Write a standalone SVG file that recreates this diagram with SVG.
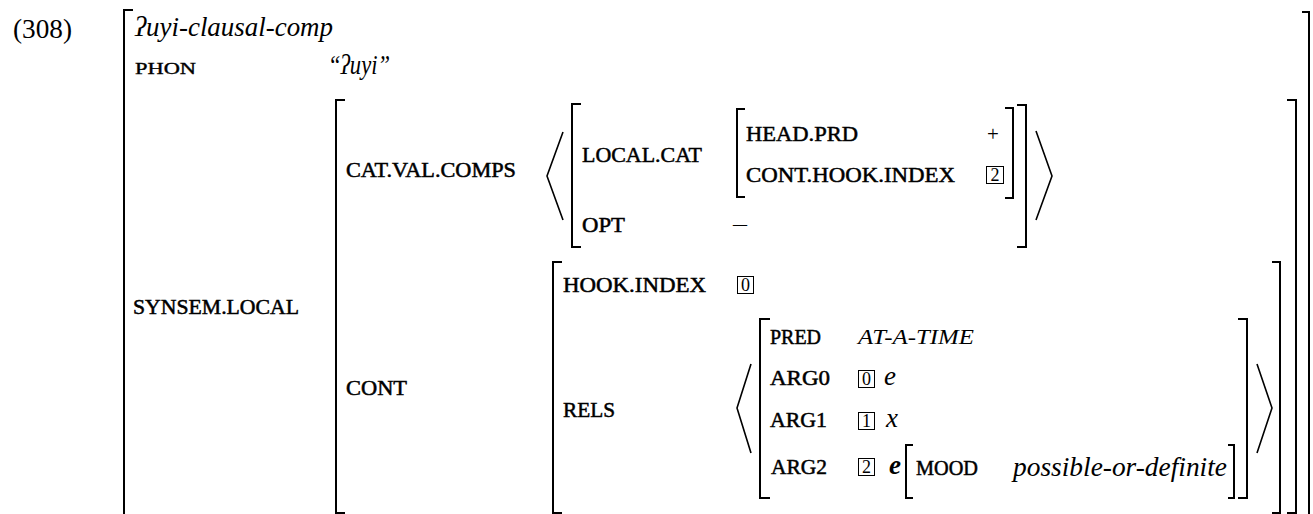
<svg xmlns="http://www.w3.org/2000/svg" width="1313" height="514" viewBox="0 0 1313 514">
<style>
  .br { fill: none; stroke: #000; stroke-width: 2; stroke-linecap: butt; stroke-linejoin: miter; }
  .ang { fill: none; stroke: #000; stroke-width: 1.6; stroke-linejoin: miter; }
  .box { fill: none; stroke: #000; stroke-width: 1; }
  text { font-family: "Liberation Serif", "DejaVu Serif", serif; fill: #000; }
  .sc { font-size: 21px; stroke: #000; stroke-width: 0.5; }
  .sm { font-size: 17px; stroke: #000; stroke-width: 0.4; }
  .it { font-style: italic; font-size: 27px; }
  .itc { font-style: italic; font-size: 20px; }
  .tag { font-size: 18px; text-anchor: middle; }
  .num { font-size: 27px; }
</style>
<g id="brackets">
  <path class="br" d="M133,10 H124 V516"/>
  <path class="br" d="M1302,12 H1309 V516"/>
  <path class="br" d="M345,100 H336 V513 H345"/>
  <path class="br" d="M1287,100 H1296 V513 H1287"/>
  <path class="ang" d="M563,132 L547,176 L563,220"/>
  <path class="br" d="M581,104 H572 V247 H581"/>
  <path class="br" d="M745,109 H737 V197 H745"/>
  <path class="br" d="M1005,108 H1013 V198 H1005"/>
  <path class="br" d="M1017,105 H1026 V247 H1017"/>
  <path class="ang" d="M1036,131 L1052,176 L1036,220"/>
  <path class="br" d="M562,262 H553 V513 H562"/>
  <path class="br" d="M1272,262 H1280 V513 H1272"/>
  <path class="ang" d="M751,364 L737,408 L751,453"/>
  <path class="br" d="M770,319 H760 V498 H770"/>
  <path class="br" d="M1238,319 H1247 V498 H1238"/>
  <path class="ang" d="M1257,364 L1272,408 L1257,453"/>
  <path class="br" d="M913,445 H906 V498 H913"/>
  <path class="br" d="M1228,445 H1234 V498 H1228"/>
</g>
<g id="tags">
  <rect class="box" x="986.5" y="166.5" width="17" height="17"/>
  <text class="tag" x="995" y="181">2</text>
  <rect class="box" x="737.5" y="276.5" width="16" height="17"/>
  <text class="tag" x="745.5" y="291">0</text>
  <rect class="box" x="858.5" y="370.5" width="16" height="17"/>
  <text class="tag" x="866.5" y="385">0</text>
  <rect class="box" x="858.5" y="412.5" width="16" height="17"/>
  <text class="tag" x="866.5" y="427">1</text>
  <rect class="box" x="858.5" y="458.5" width="16" height="17"/>
  <text class="tag" x="866.5" y="473">2</text>
</g>
<g id="labels">
  <text class="num" x="13" y="38" textLength="59" lengthAdjust="spacingAndGlyphs">(308)</text>
  <text class="it" x="135" y="36" textLength="198" lengthAdjust="spacingAndGlyphs">ʔuyi-clausal-comp</text>
  <text class="sm" x="135" y="74" textLength="61" lengthAdjust="spacingAndGlyphs">PHON</text>
  <text class="it" x="328" y="74" textLength="62" lengthAdjust="spacingAndGlyphs">“ʔuyi”</text>
  <text class="sc" x="133" y="314" textLength="166" lengthAdjust="spacingAndGlyphs">SYNSEM.LOCAL</text>
  <text class="sc" x="346" y="177" textLength="170" lengthAdjust="spacingAndGlyphs">CAT.VAL.COMPS</text>
  <text class="sc" x="346" y="395" textLength="61" lengthAdjust="spacingAndGlyphs">CONT</text>
  <text class="sc" x="582" y="162" textLength="120" lengthAdjust="spacingAndGlyphs">LOCAL.CAT</text>
  <text class="sc" x="582" y="232" textLength="43" lengthAdjust="spacingAndGlyphs">OPT</text>
  <text x="733" y="231" font-size="21" textLength="14" lengthAdjust="spacingAndGlyphs">–</text>
  <text class="sc" x="746" y="141" textLength="112" lengthAdjust="spacingAndGlyphs">HEAD.PRD</text>
  <text class="sc" x="746" y="182" textLength="209" lengthAdjust="spacingAndGlyphs">CONT.HOOK.INDEX</text>
  <text x="993" y="141" font-size="21" text-anchor="middle" fill="#000">+</text>
  <text class="sc" x="563" y="292" textLength="143" lengthAdjust="spacingAndGlyphs">HOOK.INDEX</text>
  <text class="sc" x="563" y="417" textLength="52" lengthAdjust="spacingAndGlyphs">RELS</text>
  <text class="sc" x="770" y="344" textLength="51" lengthAdjust="spacingAndGlyphs">PRED</text>
  <text class="itc" x="858" y="344" textLength="116" lengthAdjust="spacingAndGlyphs">AT-A-TIME</text>
  <text class="sc" x="770" y="385" textLength="60" lengthAdjust="spacingAndGlyphs">ARG0</text>
  <text class="it" x="884" y="385">e</text>
  <text class="sc" x="770" y="427" textLength="57" lengthAdjust="spacingAndGlyphs">ARG1</text>
  <text class="it" x="886" y="427">x</text>
  <text class="sc" x="771" y="474" textLength="56" lengthAdjust="spacingAndGlyphs">ARG2</text>
  <text class="it" x="889" y="474" font-weight="bold">e</text>
  <text class="sc" x="916" y="475" textLength="62" lengthAdjust="spacingAndGlyphs">MOOD</text>
  <text class="it" x="1013" y="476" textLength="214" lengthAdjust="spacingAndGlyphs">possible-or-definite</text>
</g>
</svg>
